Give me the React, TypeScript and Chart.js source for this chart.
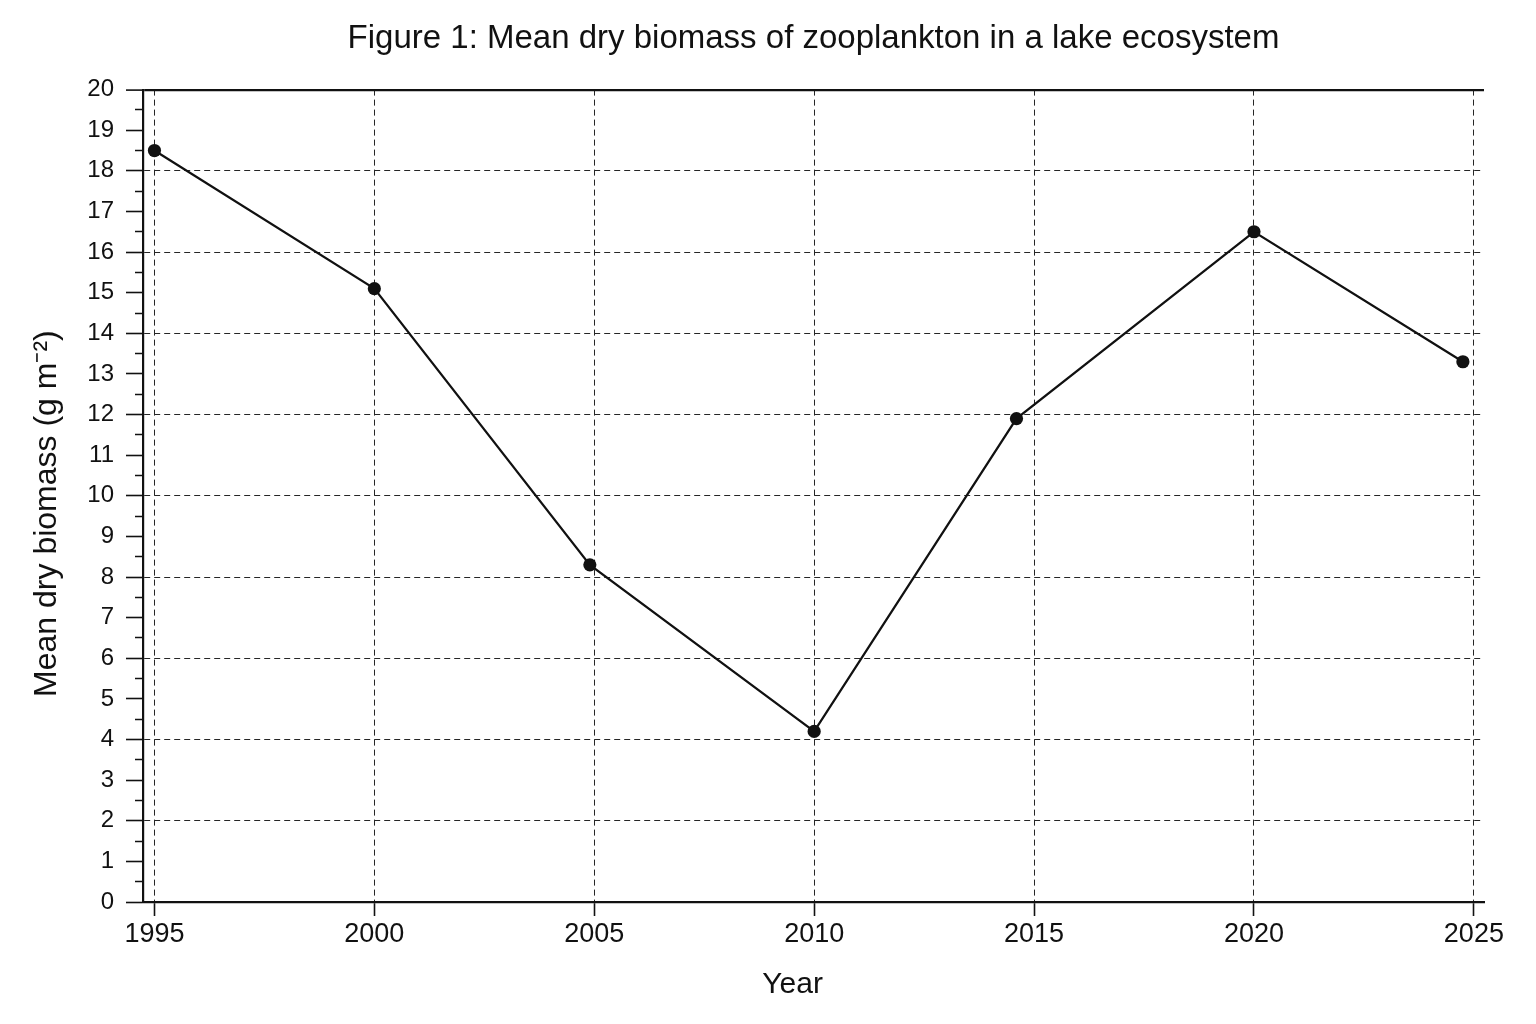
import React, { useEffect, useRef } from "react";
import { Chart, registerables } from "chart.js";

Chart.register(...registerables);

// ---- data ----
const years = [1995, 2000, 2004.9, 2010, 2014.6, 2020, 2024.75];
const biomass = [18.5, 15.1, 8.3, 4.2, 11.9, 16.5, 13.3];
const xTickYears = [1995, 2000, 2005, 2010, 2015, 2020, 2025];
const yMin = 0;
const yMax = 20;

const TITLE = "Figure 1: Mean dry biomass of zooplankton in a lake ecosystem";
const X_TITLE = "Year";
const Y_TITLE = "Mean dry biomass (g m\u207B\u00B2)";

const INK = "#111111";
const GRID = "#262626";
const FONT = "'Liberation Sans', Arial, sans-serif";

export default function App() {
  const canvasRef = useRef<HTMLCanvasElement | null>(null);

  useEffect(() => {
    const canvas = canvasRef.current;
    if (!canvas) return;
    const chart = new Chart(canvas, {
      type: "line",
      data: {
        datasets: [
          {
            label: "Biomass",
            data: years.map((y, i) => ({ x: y, y: biomass[i] })),
            borderColor: INK,
            borderWidth: 2.2,
            backgroundColor: INK,
            pointRadius: 6.6,
            pointBackgroundColor: INK,
            pointBorderWidth: 0,
            tension: 0,
          },
        ],
      },
      options: {
        responsive: false,
        animation: false,
        devicePixelRatio: 1,
        layout: { padding: { left: 0, right: 52, top: 0, bottom: 0 } },
        plugins: {
          legend: { display: false },
          tooltip: { enabled: false },
          title: {
            display: true,
            text: TITLE,
            fullSize: false,
            color: INK,
            font: { family: FONT, size: 33, weight: "normal", lineHeight: 1.2 },
            padding: { top: 19, bottom: 31 },
          },
        },
        scales: {
          x: {
            type: "linear",
            min: 1994.74,
            max: 2025.23,
            afterBuildTicks: (scale: any) => {
              scale.ticks = xTickYears.map((v) => ({ value: v }));
            },
            afterFit: (scale: any) => {
              scale.height = 122;
            },
            ticks: {
              autoSkip: false,
              maxRotation: 0,
              padding: 2,
              color: INK,
              font: { family: FONT, size: 27, lineHeight: 1.2 },
              callback: (v: any) => String(v),
            },
            grid: {
              color: GRID,
              lineWidth: 1,
              tickLength: 14,
              tickColor: INK,
              tickWidth: 1.6,
            },
            border: { display: true, color: INK, width: 2.2, dash: [6, 4] },
            title: {
              display: true,
              text: X_TITLE + "     ",
              color: INK,
              font: { family: FONT, size: 30, lineHeight: 1.2 },
              padding: { top: 14, bottom: 21 },
            },
          },
          y: {
            type: "linear",
            min: yMin,
            max: yMax,
            afterFit: (scale: any) => {
              scale.width = 143;
            },
            ticks: {
              stepSize: 0.5,
              autoSkip: false,
              padding: 12,
              color: INK,
              font: { family: FONT, size: 24, lineHeight: 1.2 },
              callback: (v: any) => (Number.isInteger(v) ? String(v) : ""),
            },
            grid: {
              color: (ctx: any) => {
                const v = ctx.tick ? ctx.tick.value : 0;
                if (v === yMax) return INK;
                return v % 2 === 0 ? GRID : "rgba(0,0,0,0)";
              },
              lineWidth: (ctx: any) => (ctx.tick && ctx.tick.value === yMax ? 2.2 : 1),
              tickLength: 17,
              tickColor: INK,
              tickWidth: 1.6,
              tickBorderDash: (ctx: any) =>
                ctx.tick && !Number.isInteger(ctx.tick.value) ? [0, 9, 8, 100] : [],
            },
            border: {
              display: true,
              color: INK,
              width: 2.2,
              dash: (ctx: any) => (ctx.tick && ctx.tick.value === yMax ? [] : [6, 4]),
            },
            title: {
              display: true,
              text: Y_TITLE + "    ",
              color: INK,
              font: { family: FONT, size: 32, lineHeight: 1.2 },
              padding: { top: 28, bottom: 0 },
            },
          },
        },
      } as any,
    });
    return () => chart.destroy();
  }, []);

  return (
    <div style={{ position: "absolute", left: 0, top: 0, width: 1536, height: 1024, background: "#ffffff" }}>
      <canvas ref={canvasRef} width={1536} height={1024} style={{ width: 1536, height: 1024, display: "block" }} />
    </div>
  );
}
